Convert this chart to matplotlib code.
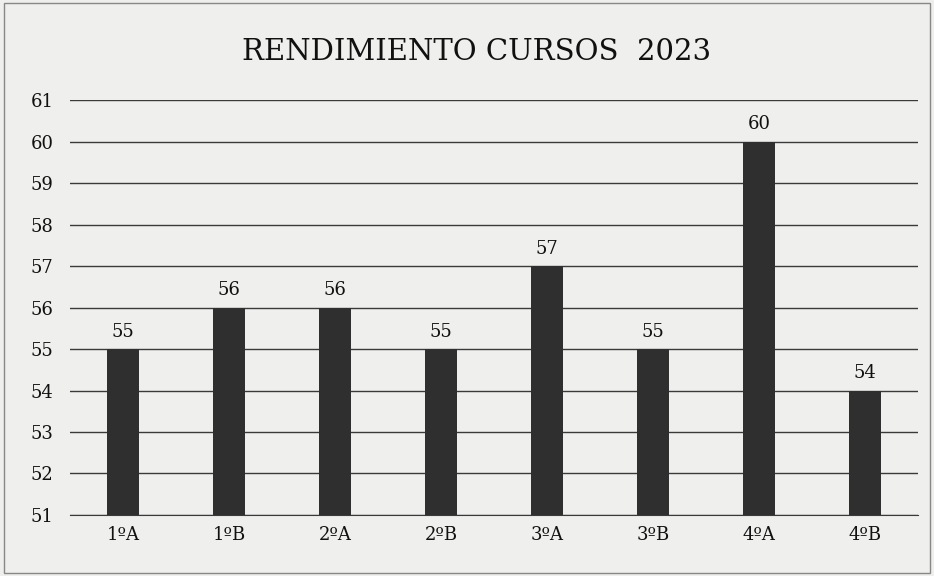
import matplotlib.pyplot as plt

cursos = ["1ºA", "1ºB", "2ºA", "2ºB", "3ºA", "3ºB", "4ºA", "4ºB"]
rendimiento = [55, 56, 56, 55, 57, 55, 60, 54]
y_ticks = list(range(51, 62))

bg = "#efefed"
bar_color = "#2e2f2e"
txt = "#111111"

plt.rcParams["font.family"] = ["DejaVu Serif"]

fig = plt.figure(figsize=(9.34, 5.76), dpi=100, facecolor=bg)
ax = fig.add_axes([0.075, 0.106, 0.908, 0.72], facecolor=bg)

x = range(len(cursos))
bars = ax.bar(x, rendimiento, width=0.3, bottom=0, color=bar_color, zorder=3)
for xi, v in zip(x, rendimiento):
    ax.text(xi, v + 0.2, str(v), ha="center", va="bottom", fontsize=13, color=txt)

ax.set_ylim(51, 61)
ax.set_xlim(-0.5, len(cursos) - 0.5)
ax.set_yticks(y_ticks)
ax.set_xticks(list(x))
ax.set_xticklabels(cursos)
ax.tick_params(axis="both", length=0, labelsize=13, colors=txt)
ax.tick_params(axis="y", pad=12)
ax.tick_params(axis="x", pad=8)
ax.grid(axis="y", color="#3a3a3a", linewidth=1.0, zorder=0)
for s in ["top", "right", "left"]:
    ax.spines[s].set_visible(False)
ax.spines["bottom"].set_color("#3a3a3a")

fig.text(0.51, 0.91, "RENDIMIENTO CURSOS  2023", ha="center", va="center",
         fontsize=21, color=txt)

# outer frame
fig.patches.append(plt.Rectangle((0.004, 0.006), 0.992, 0.988, transform=fig.transFigure,
                                 fill=False, edgecolor="#888888", linewidth=1))

plt.savefig("out.png", dpi=100, facecolor=bg)
